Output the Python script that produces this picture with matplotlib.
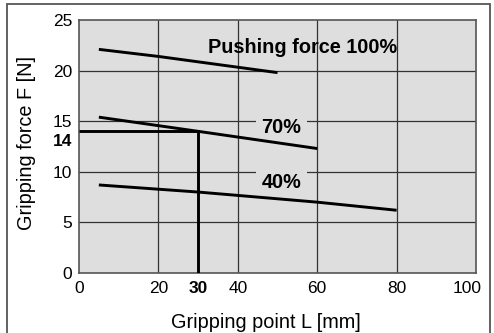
import matplotlib
matplotlib.use("Agg")
import matplotlib.pyplot as plt
from matplotlib.patches import Rectangle
from matplotlib.transforms import ScaledTranslation

plt.rcParams['font.family'] = ['Liberation Sans', 'DejaVu Sans']

# Data
x100 = [5, 20, 50]
y100 = [22.1, 21.4, 19.8]
x70 = [5, 30, 60]
y70 = [15.4, 14.0, 12.3]
x40 = [5, 30, 60, 80]
y40 = [8.7, 8.0, 7.0, 6.2]
ref_x = 30
ref_y = 14
xticks = [0, 20, 30, 40, 60, 80, 100]
yticks = [0, 5, 10, 14, 15, 20, 25]

fig = plt.figure(figsize=(4.94, 3.33), dpi=100)
ax = fig.add_axes([79/494, 60/333, 397/494, 253/333])
ax.set_facecolor('#dedede')

# outer border
fig.patches.append(Rectangle((7/494, -0.05), 483/494, 1.05 - 3.5/333,
                             transform=fig.transFigure, fill=False,
                             edgecolor='#555555', lw=1.3, zorder=0))

ax.set_xlim(0, 100)
ax.set_ylim(0, 25)
for gx in [20, 40, 60, 80]:
    ax.axvline(gx, color='#333333', lw=0.9, zorder=1)
for gy in [5, 10, 15, 20]:
    ax.axhline(gy, color='#333333', lw=0.9, zorder=1)

lw = 2.1
ax.plot(x100, y100, color='black', lw=lw, zorder=3, solid_capstyle='butt')
ax.plot(x70, y70, color='black', lw=lw, zorder=3, solid_capstyle='butt')
ax.plot(x40, y40, color='black', lw=lw, zorder=3, solid_capstyle='butt')
ax.plot([0, ref_x, ref_x], [ref_y, ref_y, 0], color='black', lw=lw, zorder=3,
        solid_joinstyle='miter', solid_capstyle='butt')

tkw = dict(fontsize=14.3, fontweight='bold', ha='center', va='center', zorder=2.5)
ax.text(56.4, 22.3, 'Pushing force 100%', **tkw)
ax.text(51, 14.4, '70%', bbox=dict(facecolor='#dedede', edgecolor='none', pad=4), **tkw)
ax.text(51, 8.9, '40%', bbox=dict(facecolor='#dedede', edgecolor='none', pad=4), **tkw)

ax.set_xticks(xticks)
ax.set_yticks(yticks)
ax.set_xticklabels([str(v) for v in xticks])
ax.set_yticklabels([str(v) for v in yticks])
ax.tick_params(length=0, pad=5)
ax.tick_params(axis='x', pad=6)
for lab in ax.get_xticklabels():
    lab.set_fontsize(12.5)
    if lab.get_text() == '30':
        lab.set_fontweight('bold')
    if lab.get_text() == '100':
        lab.set_transform(lab.get_transform() + ScaledTranslation(-9/100, 0, fig.dpi_scale_trans))
for lab in ax.get_yticklabels():
    lab.set_fontsize(12.5)
    if lab.get_text() == '14':
        lab.set_fontweight('bold')
        lab.set_va('top')
        lab.set_transform(lab.get_transform() + ScaledTranslation(0, -3/100, fig.dpi_scale_trans))

for s in ax.spines.values():
    s.set_color('#555555')
    s.set_linewidth(1.2)

ax.set_xlabel('Gripping point L [mm]', fontsize=14.3)
ax.set_ylabel('Gripping force F [N]', fontsize=14.3)
ax.xaxis.set_label_coords(0.471, -0.194)
ax.yaxis.set_label_coords(-0.131, 0.514)
ax.xaxis.label.set_va('center')
ax.yaxis.label.set_va('center')

fig.savefig('out.png', dpi=100)
